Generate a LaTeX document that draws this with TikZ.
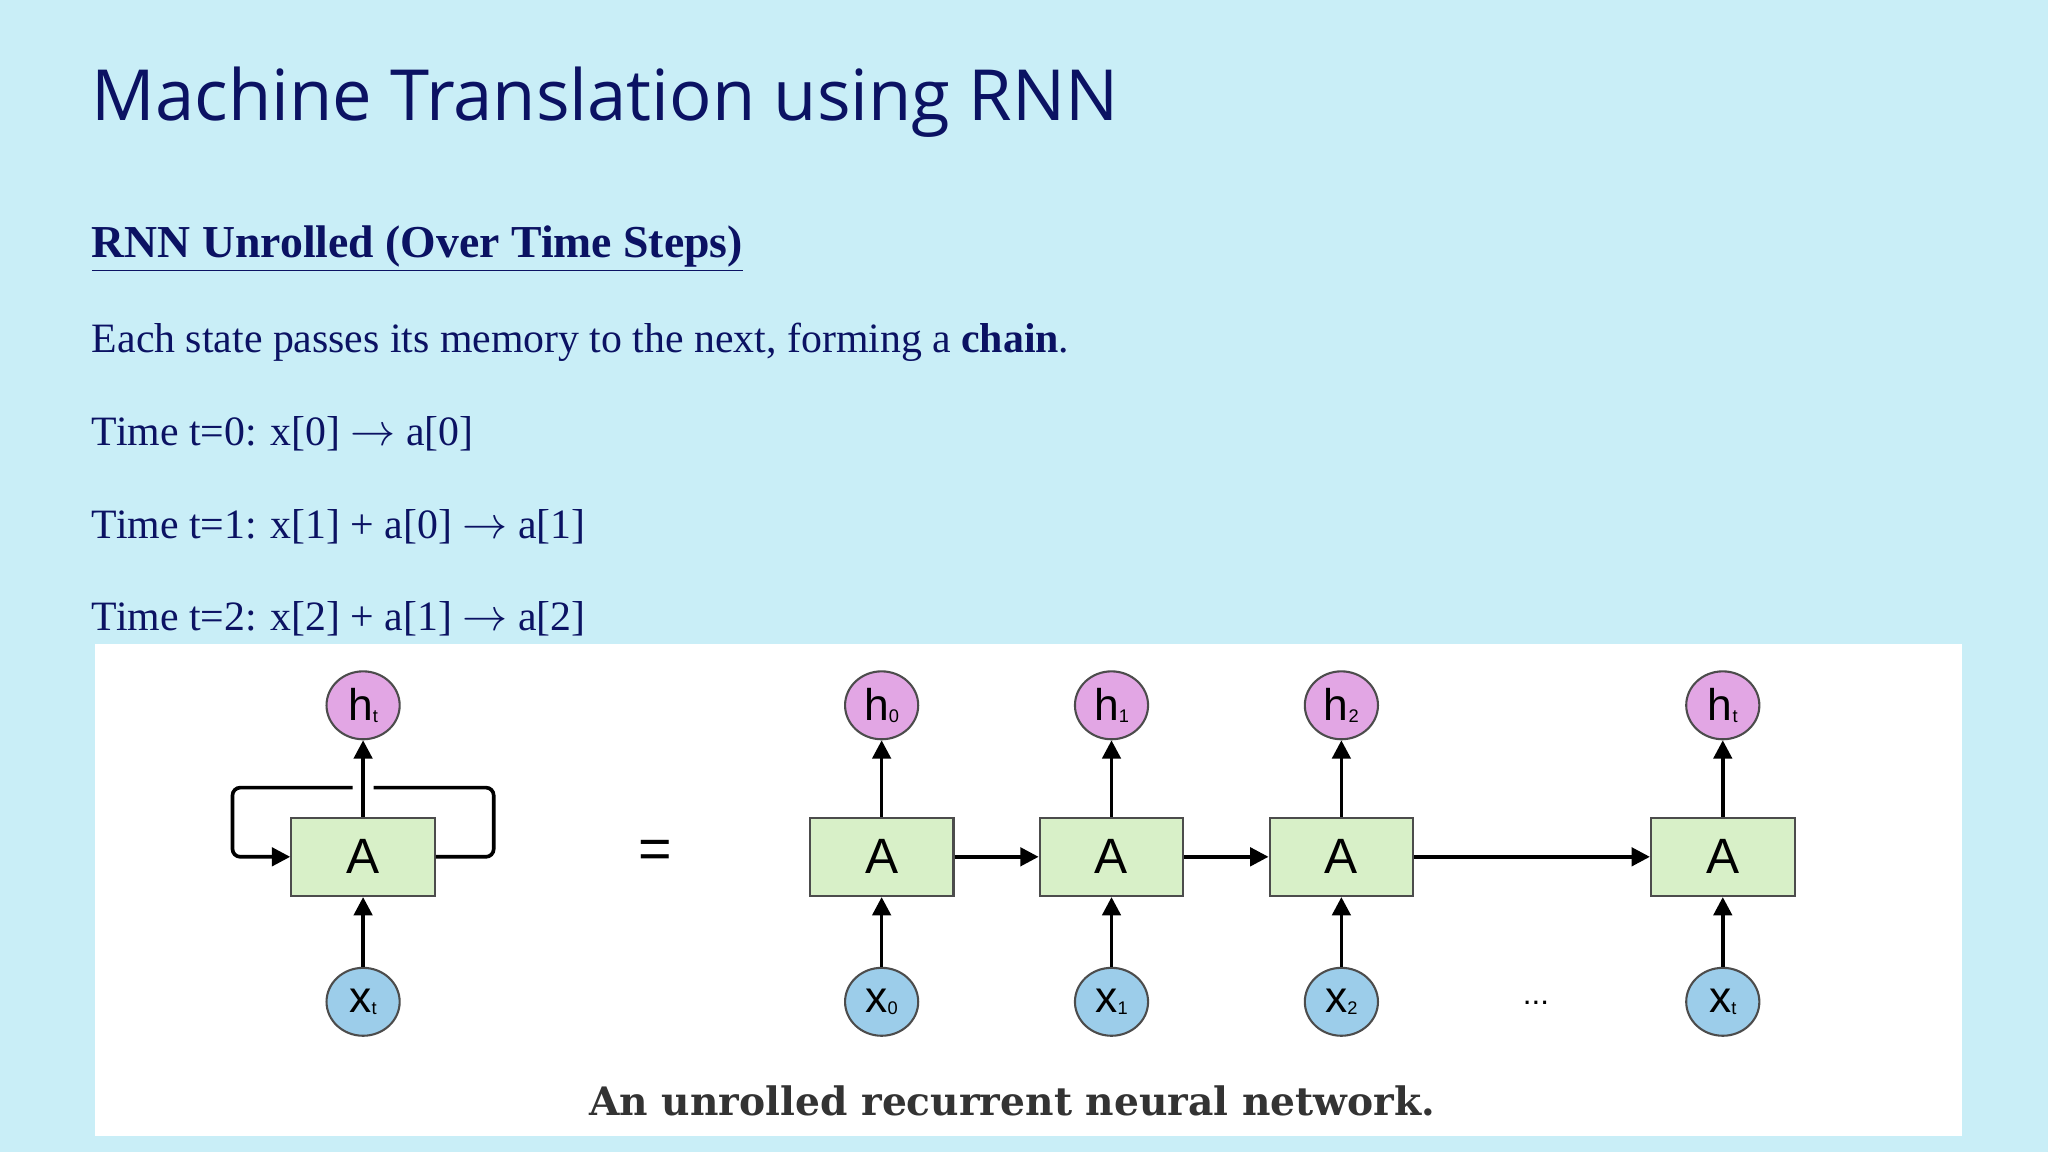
\documentclass[tikz,border=0pt]{standalone}
\usepackage{fontspec}
\setmainfont{Liberation Serif}
\newfontfamily\titlefont{Open Sans}
\newfontfamily\diagfont{Liberation Sans}
\newfontfamily\capfont{DejaVu Serif}
\usetikzlibrary{arrows.meta,positioning,shapes.geometric}
\definecolor{slidebg}{HTML}{C9EEF7}
\definecolor{navy}{HTML}{0B1263}
\definecolor{cellfill}{HTML}{D8F0C8}
\definecolor{hfill}{HTML}{E2A6E4}
\definecolor{xfill}{HTML}{9CCDEA}
\begin{document}
\begin{tikzpicture}[x=0.5pt, y=-0.5pt,
                    cell/.style={draw=black!70, thick, fill=cellfill, minimum width=55pt,
                                 minimum height=30pt, inner sep=0pt, font=\diagfont\fontsize{19}{19}\selectfont},
                    hnode/.style={draw=black!70, thick, fill=hfill, ellipse, minimum width=28pt,
                                  minimum height=26pt, inner sep=0pt, font=\diagfont\fontsize{17}{17}\selectfont},
                    xnode/.style={hnode, fill=xfill},
                    flow/.style={line width=1.4pt, -{Triangle[length=7pt,width=7pt]}},
                    line/.style={anchor=base west, inner sep=0pt, text=navy, font=\fontsize{16}{16}\selectfont}]
  \fill[slidebg] (0,0) rectangle (1568,882);
  \useasboundingbox (0,0) rectangle (1568,882);

  % slide text
  \node[anchor=base west, inner sep=0pt, text=navy, font=\titlefont\fontsize{27}{27}\selectfont] (title) at (70,92) {Machine Translation using RNN};
  \node[line, font=\bfseries\fontsize{17.5}{17.5}\selectfont] (head) at (70,197) {\underline{RNN Unrolled (Over Time Steps)}};
  \node[line] (l1) at (70,270) {Each state passes its memory to the next, forming a \textbf{chain}.};
  \node[line] (l2) at (70,341) {Time t=0: x[0] $\rightarrow$ a[0]};
  \node[line] (l3) at (70,412) {Time t=1: x[1] + a[0] $\rightarrow$ a[1]};
  \node[line] (l4) at (70,483) {Time t=2: x[2] + a[1] $\rightarrow$ a[2]};

  % picture area
  \fill[white] (73,493) rectangle (1502,870);

  % folded cell
  \node[cell] (Af) at (278,656) {A};
  \node[hnode] (hf) at (278,540) {h\raisebox{-1pt}{\scriptsize t}};
  \node[xnode] (xf) at (278,767) {x\raisebox{-1pt}{\scriptsize t}};
  \draw[flow] (xf) -- (Af);
  \draw[flow] (Af) -- (hf);
  \draw[line width=1.4pt, rounded corners=3pt] (Af.east) -- (378,656) -- (378,603) -- (286,603);
  \draw[flow, rounded corners=3pt] (270,603) -- (178,603) -- (178,656) -- (Af.west);

  \node[font=\diagfont\fontsize{22}{22}\selectfont] (eq) at (502,654) {=};

  % unrolled cells
  \foreach \i/\px/\sub in {0/675/0, 1/851/1, 2/1027/2, 3/1319/t}{
    \node[cell] (A\i) at (\px,656) {A};
    \node[hnode] (h\i) at (\px,540) {h\raisebox{-1pt}{\scriptsize \sub}};
    \node[xnode] (x\i) at (\px,767) {x\raisebox{-1pt}{\scriptsize \sub}};
    \draw[flow] (x\i) -- (A\i);
    \draw[flow] (A\i) -- (h\i);
  }
  \draw[flow] (A0) -- (A1);
  \draw[flow] (A1) -- (A2);
  \draw[flow] (A2) -- (A3);
  \node[font=\diagfont\fontsize{12}{12}\selectfont] (dots) at (1176,768) {...};

  \node[font=\capfont\bfseries\fontsize{15}{15}\selectfont, text=black!80] (cap) at (775,843) {An unrolled recurrent neural network.};
\end{tikzpicture}
\end{document}
